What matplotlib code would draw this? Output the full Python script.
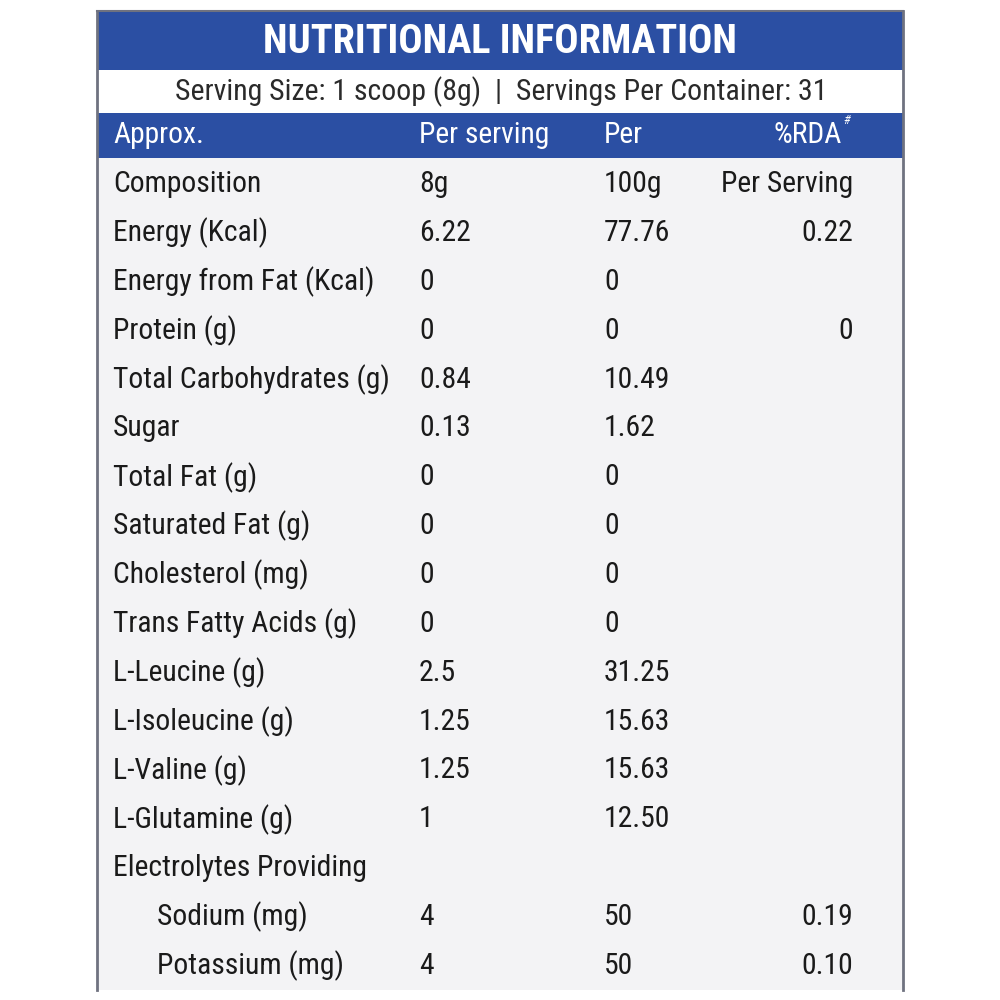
import matplotlib
matplotlib.use('Agg')
import matplotlib.pyplot as plt
from matplotlib.patches import Rectangle

# Datos de la tabla nutricional
titulo = "NUTRITIONAL INFORMATION"
subtitulo = "Serving Size: 1 scoop (8g)  |  Servings Per Container: 31"
encabezados = ["Approx.", "Per serving", "Per", "%RDA"]

nutrientes = ["Composition", "Energy (Kcal)", "Energy from Fat (Kcal)", "Protein (g)",
              "Total Carbohydrates (g)", "Sugar", "Total Fat (g)", "Saturated Fat (g)",
              "Cholesterol (mg)", "Trans Fatty Acids (g)", "L-Leucine (g)", "L-Isoleucine (g)",
              "L-Valine (g)", "L-Glutamine (g)", "Electrolytes Providing",
              "Sodium (mg)", "Potassium (mg)"]
por_porcion = ["8g", "6.22", "0", "0", "0.84", "0.13", "0", "0", "0", "0",
               "2.5", "1.25", "1.25", "1", "", "4", "4"]
por_100g = ["100g", "77.76", "0", "0", "10.49", "1.62", "0", "0", "0", "0",
            "31.25", "15.63", "15.63", "12.50", "", "50", "50"]
rda = ["Per Serving", "0.22", "", "0", "", "", "", "", "", "",
       "", "", "", "", "", "0.19", "0.10"]
sangria = [False] * 15 + [True, True]

plt.rcParams['font.family'] = ['Roboto Condensed', 'DejaVu Sans']

azul = '#2b4fa3'
gris_fondo = '#f3f3f5'
texto = '#1a1a1a'
tam = 21.3

fig = plt.figure(figsize=(10, 10), dpi=100)
fig.set_facecolor('white')
ax = fig.add_axes([0, 0, 1, 1])
ax.set_xlim(0, 1000)
ax.set_ylim(1000, 0)
ax.axis('off')

# Fondos
ax.add_patch(Rectangle((97, 158), 806, 832, facecolor=gris_fondo, edgecolor='none'))
ax.add_patch(Rectangle((97, 11), 806, 59, facecolor=azul, edgecolor='none'))
ax.add_patch(Rectangle((97, 70), 806, 43, facecolor='white', edgecolor='none'))
ax.add_patch(Rectangle((97, 113), 806, 45, facecolor=azul, edgecolor='none'))
ax.plot([97, 97], [11, 990], color='#6f7280', lw=2)
ax.plot([903, 903], [11, 990], color='#6f7280', lw=2)
ax.plot([97, 903], [11, 11], color='#6f7280', lw=1.5)

ax.text(500, 42, titulo, ha='center', va='center', color='white',
        fontsize=29, fontweight='bold')
ax.text(501, 92, subtitulo, ha='center', va='center', color='#2a2a2a', fontsize=21.5)

ax.text(113, 135, encabezados[0], ha='left', va='center', color='white', fontsize=tam)
ax.text(419, 135, encabezados[1], ha='left', va='center', color='white', fontsize=tam)
ax.text(604, 135, encabezados[2], ha='left', va='center', color='white', fontsize=tam)
ax.text(842, 135, encabezados[3], ha='right', va='center', color='white', fontsize=tam)
ax.text(843, 127, "#", ha='left', va='bottom', color='white', fontsize=9, style='italic')

y0 = 184
paso = 48.875
for i, nombre in enumerate(nutrientes):
    y = y0 + i * paso
    x = 157 if sangria[i] else 113
    ax.text(x, y, nombre, ha='left', va='center', color=texto, fontsize=tam)
    ax.text(419, y, por_porcion[i], ha='left', va='center', color=texto, fontsize=tam)
    ax.text(604, y, por_100g[i], ha='left', va='center', color=texto, fontsize=tam)
    ax.text(853, y, rda[i], ha='right', va='center', color=texto, fontsize=tam)

plt.savefig('out.png', dpi=100, facecolor=fig.get_facecolor())
